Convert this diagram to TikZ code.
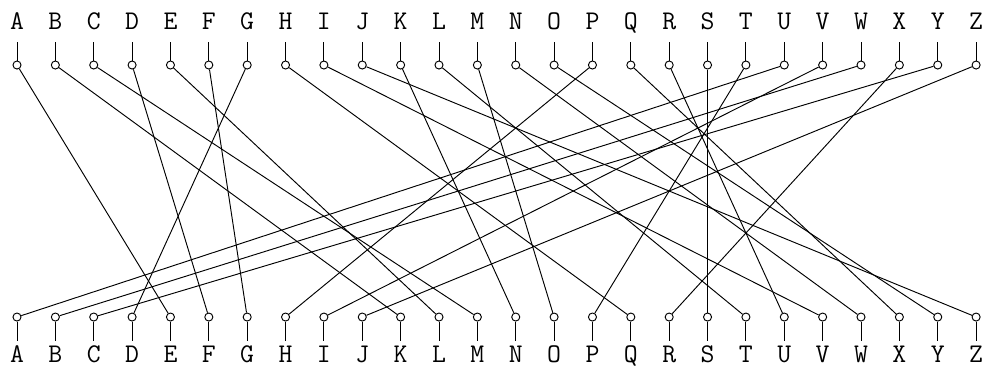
\documentclass[tikz,border=0pt]{standalone}
\usepackage{fontspec}
\usepackage{tikz}
\usetikzlibrary{positioning}

\begin{document}
\begin{tikzpicture}[
        line width=0.7pt,
        letter/.style={font=\fontsize{20}{24}\selectfont\ttfamily, inner sep=0pt, anchor=base},
        contact/.style={circle, draw, fill=white, inner sep=0pt, minimum size=0.21cm},
        wire/.style={line width=0.7pt}
    ]
    \useasboundingbox (-0.443,-9.645) rectangle (25.31,0);

    % Styki wejsciowe (gora) i wyjsciowe (dol)
    \foreach \l [count=\i from 0] in {A,...,Z} {
        \node[letter] (top\l) at (\i,-0.78) {\l};
        \node[contact] (in\l) at (\i,-1.695) {};
        \draw (in\l.north) -- ++(0,0.495);
        \node[letter] (bot\l) at (\i,-9.46) {\l};
        \node[contact] (out\l) at (\i,-8.264) {};
        \draw (out\l.south) -- ++(0,-0.495);
    }

    % Okablowanie wirnika
    \foreach \a/\b in {A/E, B/K, C/M, D/F, E/L, F/G, G/D, H/Q, I/V, J/Z, K/N, L/T, M/O,
                       N/W, O/Y, P/H, Q/X, R/U, S/S, T/P, U/A, V/I, W/B, X/R, Y/C, Z/J}
        \draw[wire] (in\a) -- (out\b);

\end{tikzpicture}
\end{document}
